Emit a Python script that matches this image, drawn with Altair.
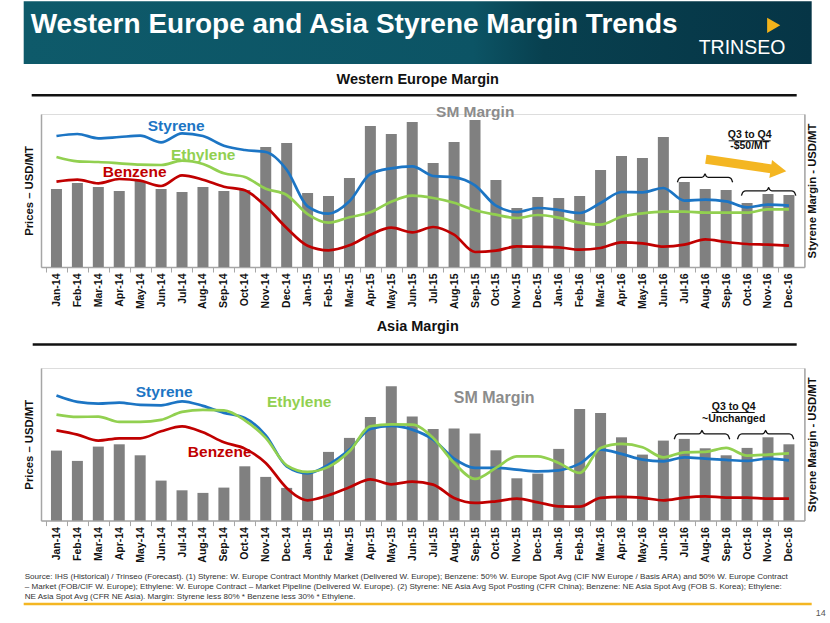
import json
import altair as alt
import pandas as pd

# ---------------- data ----------------
months = ["Jan-14", "Feb-14", "Mar-14", "Apr-14", "May-14", "Jun-14", "Jul-14", "Aug-14", "Sep-14",
          "Oct-14", "Nov-14", "Dec-14", "Jan-15", "Feb-15", "Mar-15", "Apr-15", "May-15", "Jun-15",
          "Jul-15", "Aug-15", "Sep-15", "Oct-15", "Nov-15", "Dec-15", "Jan-16", "Feb-16", "Mar-16",
          "Apr-16", "May-16", "Jun-16", "Jul-16", "Aug-16", "Sep-16", "Oct-16", "Nov-16", "Dec-16"]

we_margin = [78, 84, 80, 76, 86, 78, 75, 80, 76, 77, 120, 124, 74, 71, 89, 141, 133, 145,
             104, 125, 147, 87, 59, 70, 69, 71, 97, 111, 109, 130, 85, 78, 77, 64, 73, 72]
we_styrene = [131, 133, 128.7, 130, 131.3, 124.7, 133.7, 131, 121.3, 117, 115, 97.3, 60.7, 53.3, 65.7, 93, 98.7, 100.7,
              91, 89.7, 81.7, 61.3, 55, 59, 57, 54, 64, 75, 74.7, 79, 66.3, 67.3, 65.7, 59.7, 62.3, 61.3]
we_ethylene = [110, 105.7, 105, 103.7, 102.3, 102, 106.3, 103, 93.7, 90, 78.3, 72, 53, 44.3, 49.7, 54.7, 65.3, 71.3,
               69, 64.3, 56.7, 52.3, 49, 52, 49.3, 44.3, 42.3, 50.3, 53.7, 55.3, 55.3, 54.3, 54.3, 54.3, 57.7, 57.7]
we_benzene = [85.3, 87.3, 83.7, 88, 86.3, 81, 91.7, 87.3, 80.3, 76.7, 60.7, 39, 21.3, 16.7, 21.7, 32.3, 39.3, 34.7,
              40, 32.3, 15, 16.3, 20.7, 20.3, 19.7, 17.3, 19, 24.7, 23.7, 20.3, 22.3, 27.7, 25, 23, 22.3, 21.3]

asia_margin = [70, 59.7, 74, 76.3, 65.3, 40, 30.3, 27.7, 33, 54.3, 43.7, 32.7, 49, 68.7, 82.7, 103.7, 134.3, 104,
               91.7, 92, 87, 70.3, 42.3, 47, 71.7, 111.7, 107.7, 83.3, 66, 80, 81.7, 72.3, 65.3, 72.7, 83.3, 76.3]
asia_styrene = [125, 118.7, 117, 118, 115.7, 115.3, 119.3, 114.7, 107.7, 102.7, 85.3, 54.3, 47.3, 56, 71, 91.7, 94.7, 91,
                81, 62, 52.7, 52.7, 51, 49.3, 50.3, 57, 71, 66.7, 61, 59.3, 63.3, 62, 60.7, 59.7, 62, 60.3]
asia_ethylene = [106, 103.7, 104, 98.7, 98.7, 100.7, 108.7, 110.7, 110.3, 100.3, 82.7, 55.3, 48.7, 53.7, 69.3, 94.3, 96.3, 96,
                 82.7, 57.7, 41.7, 52.7, 64.3, 64.3, 57.7, 47.7, 72.7, 76.7, 73.3, 63.3, 68.3, 68.7, 72.7, 65, 66, 67.3]
asia_benzene = [90.3, 86, 80, 82.3, 82.3, 89.3, 94.3, 88.3, 78.3, 72, 57.7, 32.7, 20.3, 25.3, 33.3, 41.3, 36.3, 39,
                36, 22.7, 17.7, 19.3, 22, 18.3, 14.3, 14, 22.7, 23.7, 22.7, 20.3, 23, 24.3, 23, 23, 22, 22]

footnote = [
    "Source: IHS (Historical) / Trinseo (Forecast).  (1) Styrene: W. Europe Contract Monthly Market (Delivered W. Europe); Benzene: 50% W. Europe Spot Avg (CIF NW Europe / Basis ARA) and 50% W. Europe Contract",
    "\u2013 Market (FOB/CIF W. Europe); Ethylene: W. Europe Contract \u2013 Market Pipeline  (Delivered W. Europe).  (2) Styrene: NE Asia Avg Spot Posting (CFR China); Benzene: NE Asia Spot Avg (FOB S. Korea); Ethylene:",
    "NE Asia Spot Avg (CFR NE Asia).  Margin: Styrene less 80% * Benzene less 30% * Ethylene.",
]

# ---------------- style ----------------
N = len(months)
W = 763.4
H1 = 153
H2 = 152.6
BAND = W / N
FONT = "Liberation Sans, Arial, sans-serif"
NARROW = "Liberation Sans Narrow, Arial Narrow, Liberation Sans, sans-serif"
BLUE, GREEN, RED, GRAY = "#1C75C4", "#92D050", "#C00000", "#808080"
GOLD = "#F4B622"
AXIS_GRAY = "#a6a6a6"

one = pd.DataFrame({"k": [0]})
label_expr = "%s[datum.value]" % json.dumps(months)


def x_enc():
    return alt.X(
        "i:Q",
        scale=alt.Scale(domain=[-0.5, N - 0.5], nice=False, zero=False),
        axis=alt.Axis(values=list(range(N)), labelExpr=label_expr, labelAngle=270,
                      labelFontWeight="bold", labelFontSize=10.5, labelColor="#111111",
                      labelPadding=1, labelOverlap=False, labelFlush=False,
                      tickOffset=-BAND / 2, labelOffset=BAND / 2, tickSize=5,
                      tickColor=AXIS_GRAY, domainColor=AXIS_GRAY, domainWidth=1.5,
                      grid=False, title=None),
    )


def y_axis(orient, title, tx, h):
    return alt.Axis(orient=orient, title=title, labels=False, ticks=False, grid=False,
                    domainColor=AXIS_GRAY, domainWidth=1.5, titleFontSize=11.3,
                    titleFontWeight="bold", titleColor="#111111", titleAngle=270,
                    titleX=tx, titleY=h / 2, titleBaseline="middle", titleAlign="center")


def txt(text, x, y, size, color, weight="bold", align="center", font=FONT):
    return alt.Chart(one).mark_text(text=text, fontSize=size, color=color, fontWeight=weight,
                                    align=align, baseline="middle", font=font).encode(
        x=alt.value(x), y=alt.value(y))


def hrule(x0, x1, y, color, width):
    return alt.Chart(one).mark_rule(color=color, strokeWidth=width, strokeCap="butt").encode(
        x=alt.value(x0), x2=alt.value(x1), y=alt.value(y))


BRACE_T = [0, 0.03, 0.08, 0.44, 0.48, 0.5, 0.52, 0.56, 0.92, 0.97, 1]
BRACE_D = [0, 0.45, 0.6, 0.6, 0.75, 1.0, 0.75, 0.6, 0.6, 0.45, 0]


def braces(spans, h):
    rows = []
    for b, (x0, x1, y_end, y_tip) in enumerate(spans):
        for t, d in zip(BRACE_T, BRACE_D):
            rows.append({"b": b, "i": x0 + (x1 - x0) * t, "v": y_end + (y_tip - y_end) * d})
    return alt.Chart(pd.DataFrame(rows)).mark_line(color="#111111", strokeWidth=1.3,
                                                   interpolate="monotone").encode(
        x=x_enc(), y=alt.Y("v:Q", scale=alt.Scale(domain=[0, h]), axis=None), detail="b:N")


def panel(margin, sty, eth, ben, h, extra):
    bar_df = pd.DataFrame({"i": list(range(N)), "margin": margin})
    rows = []
    for name, vals in [("Styrene", sty), ("Benzene", ben), ("Ethylene", eth)]:
        for i, v in enumerate(vals):
            rows.append({"i": i, "v": v, "s": name})
    line_df = pd.DataFrame(rows)
    bars = alt.Chart(bar_df).mark_bar(width=11, color=GRAY).encode(
        x=x_enc(),
        y=alt.Y("margin:Q", scale=alt.Scale(domain=[0, h]),
                axis=y_axis("right", "Styrene Margin - USD/MT", 8.5, h)))
    lines = alt.Chart(line_df).mark_line(strokeWidth=2.7, interpolate="monotone").encode(
        x=x_enc(),
        y=alt.Y("v:Q", scale=alt.Scale(domain=[0, h]),
                axis=y_axis("left", "Prices \u2013 USD/MT", -11.3, h)),
        color=alt.Color("s:N", scale=alt.Scale(domain=["Styrene", "Benzene", "Ethylene"],
                                               range=[BLUE, RED, GREEN]), legend=None))
    return alt.layer(bars, lines, *extra).resolve_scale(y="independent").properties(width=W, height=h)


# ---------------- top panel (Western Europe) ----------------
banner_fill = alt.Gradient(gradient="linear", x1=0, x2=1, y1=0, y2=0, stops=[
    alt.GradientStop(color="#0e5a6a", offset=0),
    alt.GradientStop(color="#0c5465", offset=0.57),
    alt.GradientStop(color="#08404f", offset=0.66),
    alt.GradientStop(color="#063546", offset=1)])
banner = alt.Chart(one).mark_rect(fill=banner_fill).encode(
    x=alt.value(-17.3), x2=alt.value(770.7), y=alt.value(-112.7), y2=alt.value(-50))
logo = alt.Chart(one).mark_point(shape="triangle-right", filled=True, size=230, color="#F2B31B",
                                 opacity=1).encode(x=alt.value(732.7), y=alt.value(-88.7))

arrow_shaft = alt.Chart(pd.DataFrame({"i": [31.03, 34.24], "v": [107.7, 97.9]})).mark_line(
    color=GOLD, strokeWidth=9, strokeCap="butt").encode(
    x=x_enc(), y=alt.Y("v:Q", scale=alt.Scale(domain=[0, H1]), axis=None))
arrow_head = alt.Chart(pd.DataFrame({"i": [34.5], "v": [96.9]})).mark_point(
    shape="triangle-right", filled=True, size=330, color=GOLD, opacity=1, angle=8.5).encode(
    x=x_enc(), y=alt.Y("v:Q", scale=alt.Scale(domain=[0, H1]), axis=None))

top_extra = [
    banner,
    txt("Western Europe and Asia Styrene Margin Trends", -10.3, -89, 28, "white", align="left", font=NARROW),
    txt("TRINSEO", 657.7, -66.2, 19.5, "white", weight="normal", align="left", font=NARROW),
    logo,
    txt("Western Europe Margin", 376.7, -33.7, 14.5, "#111111"),
    hrule(-9.3, 755.7, -18.7, "#111111", 2.5),
    txt("Styrene", 135.2, 12.3, 15.5, BLUE),
    txt("Ethylene", 162.2, 41.3, 15.5, GREEN),
    txt("Benzene", 93.7, 58.3, 15.5, RED),
    txt("SM Margin", 434.2, -1.7, 15.5, "#8c8c8c"),
    txt("Q3 to Q4", 708.7, 21.3, 10.5, "#111111"),
    hrule(687.7, 729.7, 26.8, "#111111", 1),
    txt("-$50/MT", 708.7, 32.3, 10.5, "#111111"),
    arrow_shaft, arrow_head,
    braces([(29.67, 32.31, 84.7, 93), (32.73, 35.33, 71.4, 79.4)], H1),
]
top = panel(we_margin, we_styrene, we_ethylene, we_benzene, H1, top_extra)

# ---------------- bottom panel (Asia) ----------------
asia_extra = [
    txt("Asia Margin", 376.7, -40.7, 14.5, "#111111"),
    hrule(-8.3, 755.7, -23.4, "#111111", 2.5),
    txt("Styrene", 123.2, 24, 15.5, BLUE),
    txt("Ethylene", 258.2, 34, 15.5, GREEN),
    txt("Benzene", 178.7, 84, 15.5, RED),
    txt("SM Margin", 453.2, 30, 16, "#8c8c8c"),
    txt("Q3 to Q4", 692.7, 39.3, 10.5, "#111111"),
    hrule(670.7, 713.7, 44.5, "#111111", 1),
    txt("~Unchanged", 692.7, 51.3, 10.5, "#111111"),
    braces([(29.52, 32.17, 81.3, 90.3), (32.54, 35.23, 81.3, 90.3)], H2),
    txt(footnote[0], -16.3, 209.3, 8.1, "#333333", weight="normal", align="left"),
    txt(footnote[1], -16.3, 219.3, 8.1, "#333333", weight="normal", align="left"),
    txt(footnote[2], -16.3, 229.3, 8.1, "#333333", weight="normal", align="left"),
    hrule(-17.3, 770.7, 236, GOLD, 2.5),
    txt("14", 779.7, 245.3, 9, "#555555", weight="normal"),
]
asia = panel(asia_margin, asia_styrene, asia_ethylene, asia_benzene, H2, asia_extra)

chart = alt.vconcat(top, asia, spacing=101, bounds="flush").properties(
    padding={"left": 21, "top": 0, "right": 0, "bottom": 0}
).configure_view(stroke=None).configure(font=FONT, background="white")

chart.save("out.html", embed_options={"renderer": "svg", "actions": False})
